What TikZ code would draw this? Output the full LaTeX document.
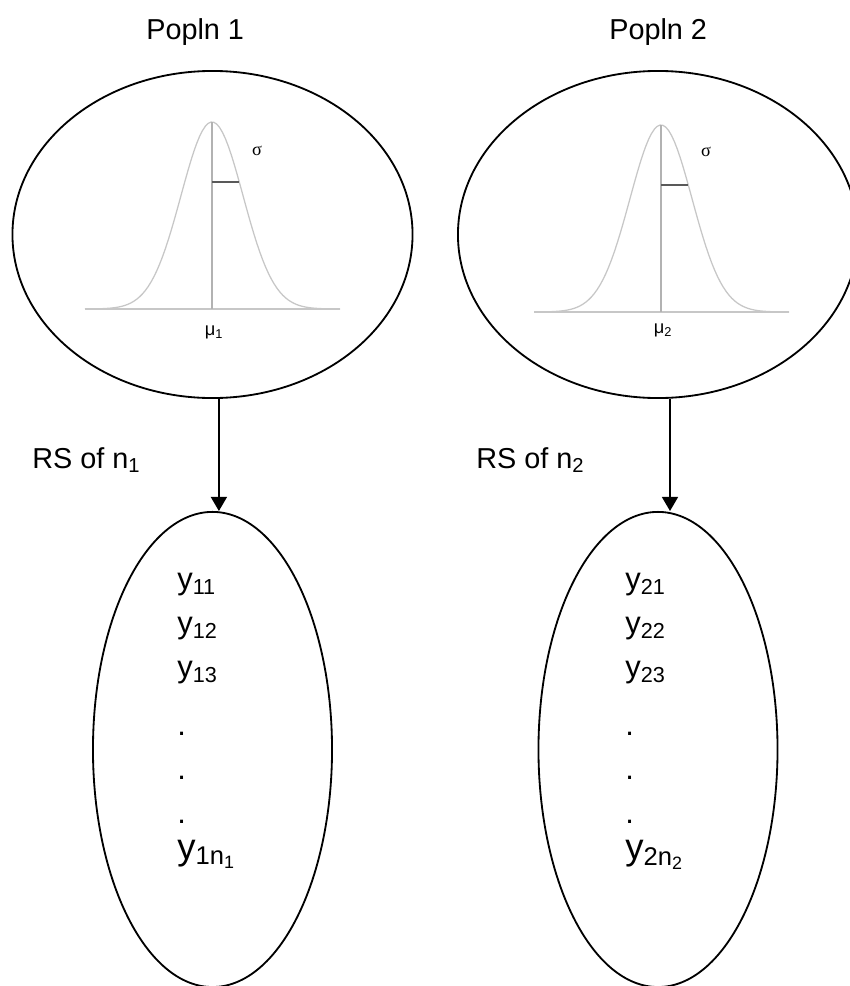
\documentclass[tikz,border=0pt]{standalone}
\usepackage{fontspec}
\setmainfont{Liberation Sans}
\newfontfamily\greekfont{Liberation Serif}
\usetikzlibrary{positioning,arrows.meta,shapes.geometric}

\begin{document}
\begin{tikzpicture}[
		x=0.025cm, y=-0.025cm,
		popn/.style={
			draw,
			ellipse,
			line width=1.3pt,
			inner sep=0pt,
			minimum width=10cm,
			minimum height=8.175cm
		},
		sample/.style={
			draw,
			ellipse,
			line width=1.3pt,
			inner sep=0pt,
			minimum width=5.975cm,
			minimum height=11.875cm
		},
		lbl/.style={anchor=base west, inner sep=0pt, font=\fontsize{20.5}{24}\selectfont},
		vals/.style={anchor=north west, inner sep=0pt, align=left, font=\fontsize{22}{31.3}\selectfont},
		bell/.style={draw=black!22, line width=0.9pt},
		arr/.style={-{Triangle[length=0.35cm,width=0.4cm]}, line width=1pt}
		]
		
		\useasboundingbox (0,0) rectangle (849,986);
		
		\node[lbl] (t1) at (146,39) {Popln 1};
		\node[lbl] (t2) at (609,39) {Popln 2};
		
		\node[popn] (pop1) at (212.5,234.5) {};
		\node[popn] (pop2) at (658,234.5) {};
		
		\node[sample] (samp1) [below=2.8cm of pop1] {};
		\node[sample] (samp2) [below=2.8cm of pop2] {};
		
		% normal curves
		\draw[bell] (85,309) -- (340,309);
		\draw[bell] plot[domain=-127:128, samples=90] ({212+\x},{309-187*exp(-0.5*(\x/31)*(\x/31))});
		\draw[black!30, line width=0.8pt] (212,122) -- (212,309);
		\draw[black!65, line width=1pt] (212,182) -- (239,182);
		\node[font=\greekfont\fontsize{13}{15}\selectfont] (s1) at (257,151) {σ};
		\node[font=\fontsize{13}{15}\selectfont] (m1) at (214,332) {μ\textsubscript{1}};
		
		\begin{scope}[shift={(449,3)}]
			\draw[bell] (85,309) -- (340,309);
			\draw[bell] plot[domain=-127:128, samples=90] ({212+\x},{309-187*exp(-0.5*(\x/31)*(\x/31))});
			\draw[black!30, line width=0.8pt] (212,122) -- (212,309);
			\draw[black!65, line width=1pt] (212,182) -- (239,182);
			\node[font=\greekfont\fontsize{13}{15}\selectfont] (s2) at (257,149) {σ};
			\node[font=\fontsize{13}{15}\selectfont] (m2) at (214,327) {μ\textsubscript{2}};
		\end{scope}
		
		\node[lbl] (rs1) at (32,468) {RS of n\textsubscript{1}};
		\node[lbl] (rs2) at (476,468) {RS of n\textsubscript{2}};
		
		\draw[arr] ([xshift=0.16cm]pop1.south) -- ([xshift=0.16cm]samp1.north);
		\draw[arr] ([xshift=0.3cm]pop2.south) -- ([xshift=0.3cm]samp2.north);
		
		\node[vals] (v1) at (177,573) {y\textsubscript{11}\\ y\textsubscript{12}\\ y\textsubscript{13}\\[10pt] .\\ .\\ .\\[-6pt] {\fontsize{26}{31}\selectfont y\textsubscript{1n\textsubscript{1}}}};
		\node[vals] (v2) at (625,573) {y\textsubscript{21}\\ y\textsubscript{22}\\ y\textsubscript{23}\\[10pt] .\\ .\\ .\\[-6pt] {\fontsize{26}{31}\selectfont y\textsubscript{2n\textsubscript{2}}}};
		
	\end{tikzpicture}
\end{document}
